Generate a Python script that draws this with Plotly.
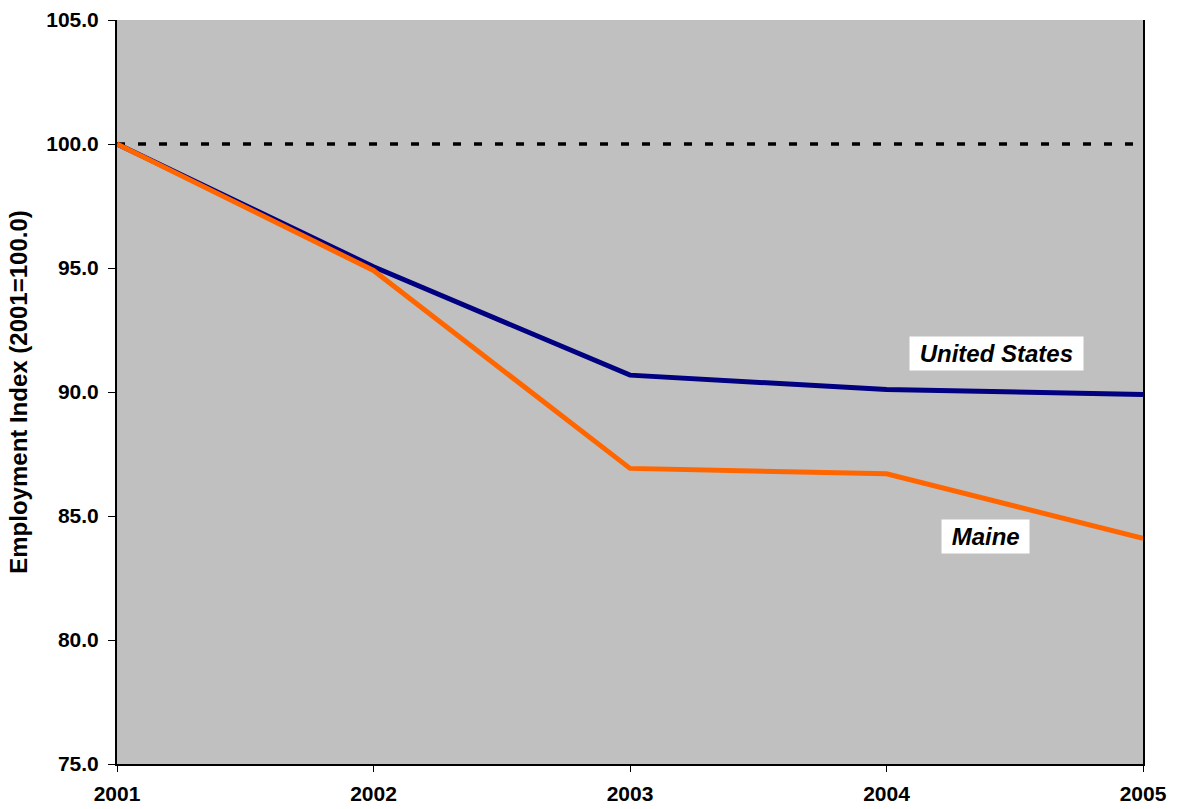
import plotly.graph_objects as go

years = [2001, 2002, 2003, 2004, 2005]
us_index = [100.0, 95.05, 90.68, 90.1, 89.9]
maine_index = [100.0, 94.9, 86.92, 86.7, 84.1]
baseline = [100.0, 100.0, 100.0, 100.0, 100.0]
y_ticks = [75, 80, 85, 90, 95, 100, 105]

fig = go.Figure()
fig.add_trace(go.Scatter(x=years, y=baseline, mode="lines",
                         line=dict(color="black", width=3.5, dash="8px,13px"),
                         showlegend=False, hoverinfo="skip"))
fig.add_trace(go.Scatter(x=years, y=us_index, mode="lines", name="United States",
                         line=dict(color="#000080", width=5), showlegend=False))
fig.add_trace(go.Scatter(x=years, y=maine_index, mode="lines", name="Maine",
                         line=dict(color="#FF6600", width=5), showlegend=False))

font_family = "Liberation Sans, Arial, sans-serif"
fig.add_annotation(x=2004.43, y=91.57, text="<b><i>&nbsp;United States&nbsp;</i></b>", showarrow=False,
                   bgcolor="white", font=dict(family=font_family, size=24, color="black"),
                   borderpad=3)
fig.add_annotation(x=2004.385, y=84.17, text="<b><i>&nbsp;Maine&nbsp;</i></b>", showarrow=False,
                   bgcolor="white", font=dict(family=font_family, size=24, color="black"),
                   borderpad=3)

fig.update_layout(
    width=1178, height=809,
    margin=dict(l=117, r=35, t=20, b=45, autoexpand=False),
    paper_bgcolor="white", plot_bgcolor="#C0C0C0",
    font=dict(family=font_family, size=21, color="black"),
    xaxis=dict(range=[2001, 2005], tickvals=years, ticktext=[str(y) for y in years],
               showgrid=False, zeroline=False, showline=True, linecolor="black", linewidth=2,
               ticks="outside", ticklen=6, tickcolor="black", tickwidth=1,
               automargin=False,
               tickfont=dict(size=21, family=font_family, weight="bold"), ticklabelstandoff=4),
    yaxis=dict(range=[75, 105], tickvals=y_ticks, ticktext=[f"{v:.1f}" for v in y_ticks],
               showgrid=False, zeroline=False, showline=True, linecolor="black", linewidth=2,
               mirror=True, automargin=False,
               ticks="outside", ticklen=7, tickcolor="black", tickwidth=1,
               tickfont=dict(size=21, family=font_family, weight="bold"), ticklabelstandoff=5,
               title=dict(text="<b>Employment Index (2001=100.0)</b>", standoff=12,
                          font=dict(size=24, family=font_family))),
)

fig.write_html("out.html")
